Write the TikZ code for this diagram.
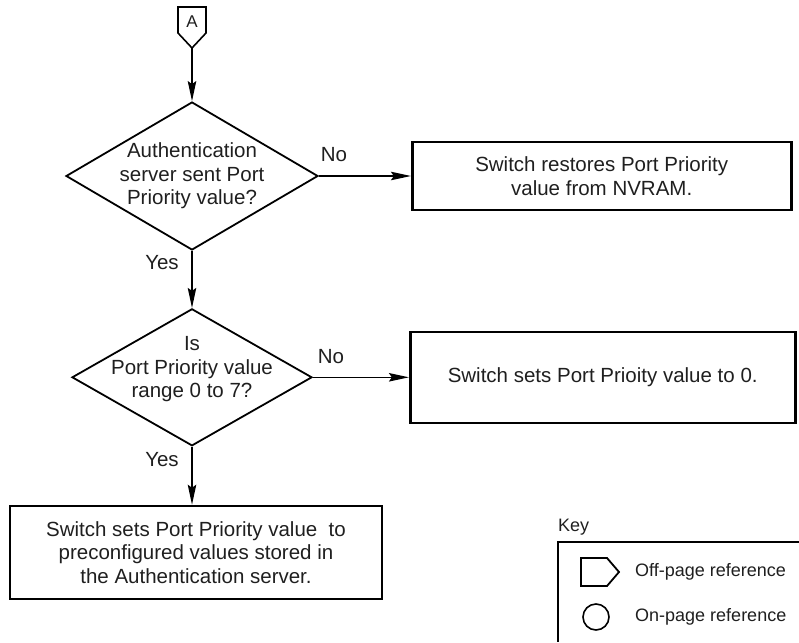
\documentclass[tikz,border=0pt]{standalone}
\usepackage{fontspec}
\setmainfont{Liberation Sans}
\usetikzlibrary{shapes.geometric,arrows.meta,positioning,calc}

\begin{document}
\begin{tikzpicture}[
  x=1pt, y=-1pt,
  every node/.style={font=\fontsize{20.5}{23.5}\selectfont, text=black!88},
  decision/.style={draw, diamond, line width=1.8pt, inner sep=0pt},
  proc/.style={draw, rectangle, line width=2.6pt, align=center, inner sep=0pt},
  lbl/.style={inner sep=0pt},
  keytxt/.style={font=\fontsize{18}{21}\selectfont, anchor=west, inner sep=0pt},
  ar/.style={-{Stealth[length=20pt, width=8.5pt, inset=3pt]}, line width=1.3pt}
]
  \useasboundingbox (0,0) rectangle (799,642);

  % off-page reference A
  \draw[line width=1.6pt] (178,7) -- (206,7) -- (206,33) -- (192,48) -- (178,33) -- cycle;
  \node[lbl, font=\fontsize{17}{20}\selectfont] (offA) at (192,22) {A};
  \coordinate (offAtip) at (192,48);

  % decisions
  \node[decision, minimum width=252pt, minimum height=148pt,
        label={[align=center]center:Authentication\\server sent Port\\Priority value?}]
        (d1) at (192,176) {};
  \node[decision, below=57pt of d1, minimum width=240pt, minimum height=137pt,
        label={[align=center, yshift=8pt]center:Is\\Port Priority value\\range 0 to 7?}]
        (d2) {};

  % actions
  \node[proc, right=92pt of d1, minimum width=379pt, minimum height=68pt] (restore)
        {Switch restores Port Priority\\value from NVRAM.};
  \node[proc, right=96pt of d2, minimum width=385pt, minimum height=91pt] (setzero)
        {Switch sets Port Prioity value to 0.};
  \node[proc, below=58pt of d2, xshift=4pt, minimum width=372pt, minimum height=93pt] (setsrv)
        {Switch sets Port Priority value~ to\\preconfigured values stored in\\the Authentication server.};

  % branch labels
  \node[lbl] (no1) at ($(d1.east)+(15,-21)$) {No};
  \node[lbl] (yes1) at ($(d1.south)+(-30,12)$) {Yes};
  \node[lbl] (no2) at ($(d2.east)+(18,-21)$) {No};
  \node[lbl] (yes2) at ($(d2.south)+(-30,13)$) {Yes};

  \draw[ar] (offAtip) -- (d1.north);
  \draw[ar] (d1) -- (restore);
  \draw[ar] (d1.south) -- (d2.north);
  \draw[ar] (d2.east) -- (d2.east -| setzero.west);
  \draw[ar] (d2.south) -- (d2.south |- setsrv.north);

  % key
  \node[keytxt] (keyttl) at (558,527) {Key};
  \draw[line width=1.4pt] (799,542) -- (558,542) -- (558,642);
  \draw[line width=1.8pt] (581,558) -- (607,558) -- (619,572) -- (607,586) -- (581,586) -- cycle;
  \node[keytxt] (offkey) at (635,572) {Off-page reference};
  \draw[line width=1.6pt] (596,617) circle (13pt);
  \node[keytxt] (onkey) at (635,617) {On-page reference};
\end{tikzpicture}
\end{document}
